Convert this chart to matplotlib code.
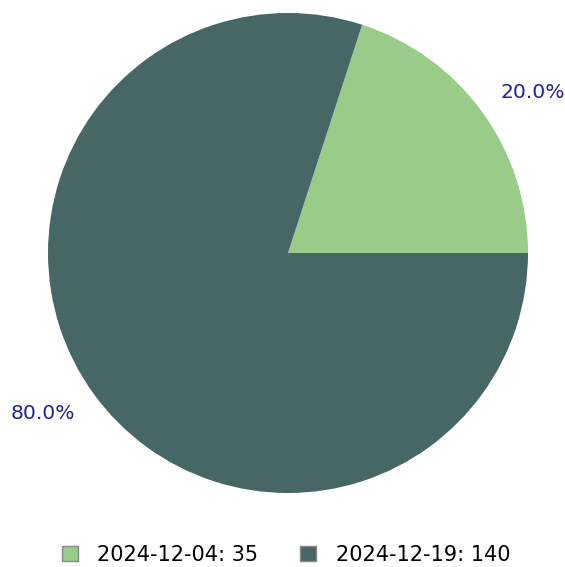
import numpy as np
import matplotlib.pyplot as plt
from matplotlib.patches import Patch

dates = ['2024-12-04', '2024-12-19']
counts = [35, 140]
colors = ['#98cc88', '#476666']

fig = plt.figure(figsize=(5.65, 5.67), dpi=100)
ax = fig.add_axes([48/565, 74/567, 480/565, 480/567])

wedges, texts, autotexts = ax.pie(counts, colors=colors, startangle=0,
                                  counterclock=True, autopct='%1.1f%%',
                                  pctdistance=1.2, radius=1)
# labels sit a little clockwise of the wedge middle, slightly further out
for w, t in zip(wedges, autotexts):
    ang = np.deg2rad((w.theta1 + w.theta2) / 2 - 2.8)
    t.set_position((1.22 * np.cos(ang), 1.22 * np.sin(ang)))
    t.set_color('#22229a')
    t.set_fontsize(14.6)
ax.set_aspect('equal')
ax.set_xlim(-1, 1)
ax.set_ylim(-1, 1)

handles = [Patch(facecolor=c, edgecolor='#888888', linewidth=1) for c in colors]
labels = [f'{d}: {n}' for d, n in zip(dates, counts)]
fig.legend(handles, labels, loc='center', bbox_to_anchor=(286/565, 1 - 555/567),
           ncol=2, frameon=False, fontsize=15, handlelength=0.75,
           handleheight=0.75, handletextpad=0.95, columnspacing=2.0)

fig.savefig('out.png')
